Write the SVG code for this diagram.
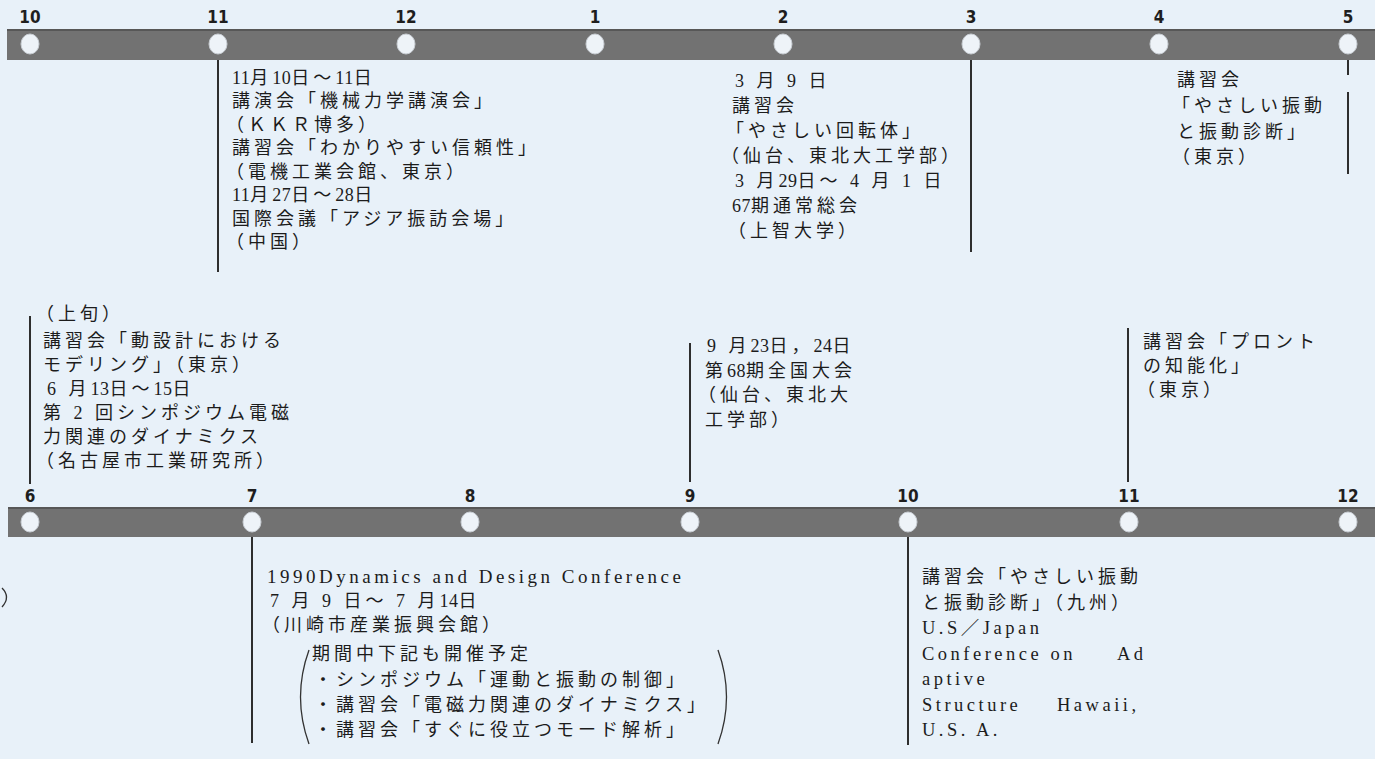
<svg xmlns="http://www.w3.org/2000/svg" width="1375" height="759" viewBox="0 0 1375 759">
<style>
.bg{fill:#e8f1f9}
.bar{fill:#727272}
.barEdge{stroke:#575757;stroke-width:2}
.dot{fill:#eef3f8;stroke:#c9ced4;stroke-width:1}
.lbl{font-family:"Liberation Sans Narrow","DejaVu Sans Condensed","Liberation Sans",sans-serif;font-weight:bold;font-size:17px;fill:#1e1e1e;text-anchor:middle}
.t{font-family:"Liberation Serif","Noto Sans CJK JP",serif;font-size:18px;letter-spacing:4px;fill:#1c1c1c}
.d{letter-spacing:0.5px}
.l{letter-spacing:3.5px;font-size:18.5px}
.ln{stroke:#2e2e2e;stroke-width:2;fill:none}
.br{stroke:#333;stroke-width:1.3;fill:none}
</style>
<rect class="bg" x="0" y="0" width="1375" height="759"/>

<g id="timeline-top">
<rect class="bar" x="7" y="29" width="1368" height="31"/>
<line class="barEdge" x1="7" y1="30" x2="1375" y2="30"/>
<ellipse class="dot" cx="30" cy="44" rx="9" ry="10"/>
<ellipse class="dot" cx="218" cy="44" rx="9" ry="10"/>
<ellipse class="dot" cx="406" cy="44" rx="9" ry="10"/>
<ellipse class="dot" cx="595" cy="44" rx="9" ry="10"/>
<ellipse class="dot" cx="783" cy="44" rx="9" ry="10"/>
<ellipse class="dot" cx="971" cy="44" rx="9" ry="10"/>
<ellipse class="dot" cx="1159" cy="44" rx="9" ry="10"/>
<ellipse class="dot" cx="1348" cy="44" rx="9" ry="10"/>
<text class="lbl" x="30" y="23">10</text>
<text class="lbl" x="218" y="23">11</text>
<text class="lbl" x="406" y="23">12</text>
<text class="lbl" x="595" y="23">1</text>
<text class="lbl" x="783" y="23">2</text>
<text class="lbl" x="971" y="23">3</text>
<text class="lbl" x="1159" y="23">4</text>
<text class="lbl" x="1348" y="23">5</text>
</g>

<g id="timeline-bottom">
<rect class="bar" x="8" y="507" width="1367" height="30"/>
<line class="barEdge" x1="8" y1="508" x2="1375" y2="508"/>
<ellipse class="dot" cx="30" cy="522" rx="9" ry="10"/>
<ellipse class="dot" cx="252" cy="522" rx="9" ry="10"/>
<ellipse class="dot" cx="470" cy="522" rx="9" ry="10"/>
<ellipse class="dot" cx="690" cy="522" rx="9" ry="10"/>
<ellipse class="dot" cx="908" cy="522" rx="9" ry="10"/>
<ellipse class="dot" cx="1129" cy="522" rx="9" ry="10"/>
<ellipse class="dot" cx="1348" cy="522" rx="9" ry="10"/>
<text class="lbl" x="30" y="502">6</text>
<text class="lbl" x="252" y="502">7</text>
<text class="lbl" x="470" y="502">8</text>
<text class="lbl" x="690" y="502">9</text>
<text class="lbl" x="908" y="502">10</text>
<text class="lbl" x="1129" y="502">11</text>
<text class="lbl" x="1348" y="502">12</text>
</g>

<g id="connectors">
<line class="ln" x1="218" y1="60" x2="218" y2="272"/>
<line class="ln" x1="971" y1="60" x2="971" y2="252"/>
<line class="ln" x1="1348" y1="60" x2="1348" y2="75"/>
<line class="ln" x1="1348" y1="92" x2="1348" y2="174"/>
<line class="ln" x1="30" y1="316" x2="30" y2="484"/>
<line class="ln" x1="690" y1="343" x2="690" y2="482"/>
<line class="ln" x1="1128" y1="328" x2="1128" y2="482"/>
<line class="ln" x1="252" y1="537" x2="252" y2="743"/>
<line class="ln" x1="908" y1="537" x2="908" y2="745"/>
</g>

<g id="event-nov">
<text class="t" x="232" y="83.5"><tspan class="d">11</tspan>月<tspan class="d">10</tspan>日〜<tspan class="d">11</tspan>日</text>
<text class="t" x="232" y="107">講演会「機械力学講演会」</text>
<text class="t" x="226" y="130.5">（ＫＫＲ博多）</text>
<text class="t" x="232" y="154">講習会「わかりやすい信頼性」</text>
<text class="t" x="226" y="177.5">（電機工業会館、東京）</text>
<text class="t" x="232" y="201"><tspan class="d">11</tspan>月<tspan class="d">27</tspan>日〜<tspan class="d">28</tspan>日</text>
<text class="t" x="232" y="224.5">国際会議「アジア振訪会場」</text>
<text class="t" x="226" y="248">（中国）</text>
</g>

<g id="event-mar">
<text class="t" x="735" y="86.5">3 月 9 日</text>
<text class="t" x="732" y="111.5">講習会</text>
<text class="t" x="726" y="136.5">「やさしい回転体」</text>
<text class="t" x="721" y="161.5">（仙台、東北大工学部）</text>
<text class="t" x="735" y="186.5">3 月<tspan class="d">29</tspan>日〜 4 月 1 日</text>
<text class="t" x="732" y="211.5"><tspan class="d">67</tspan>期通常総会</text>
<text class="t" x="728" y="236.5">（上智大学）</text>
</g>

<g id="event-apr">
<text class="t" x="1177" y="86">講習会</text>
<text class="t" x="1172" y="112">「やさしい振動</text>
<text class="t" x="1177" y="138">と振動診断」</text>
<text class="t" x="1172" y="163">（東京）</text>
</g>

<g id="event-jun">
<text class="t" x="36" y="320">（上旬）</text>
<text class="t" x="43" y="347">講習会「動設計における</text>
<text class="t" x="43" y="371">モデリング」（東京）</text>
<text class="t" x="47" y="395">6 月<tspan class="d">13</tspan>日〜<tspan class="d">15</tspan>日</text>
<text class="t" x="43" y="419">第 2 回シンポジウム電磁</text>
<text class="t" x="43" y="443">力関連のダイナミクス</text>
<text class="t" x="36" y="467">（名古屋市工業研究所）</text>
</g>

<g id="event-sep">
<text class="t" x="707" y="352">9 月<tspan class="d">23</tspan>日，<tspan class="d">24</tspan>日</text>
<text class="t" x="705" y="376.5">第<tspan class="d">68</tspan>期全国大会</text>
<text class="t" x="698" y="401">（仙台、東北大</text>
<text class="t" x="705" y="425.5">工学部）</text>
</g>

<g id="event-nov2">
<text class="t" x="1143" y="348">講習会「プロント</text>
<text class="t" x="1143" y="372">の知能化」</text>
<text class="t" x="1137" y="396">（東京）</text>
</g>

<g id="event-jul">
<text class="t" x="267" y="583" style="font-size:19px" textLength="418" lengthAdjust="spacing">1990Dynamics and Design Conference</text>
<text class="t" x="270" y="607">7 月 9 日〜 7 月<tspan class="d">14</tspan>日</text>
<text class="t" x="262" y="631">（川崎市産業振興会館）</text>
<text class="t" x="312" y="660">期間中下記も開催予定</text>
<text class="t" x="314" y="686">・シンポジウム「運動と振動の制御」</text>
<text class="t" x="314" y="711">・講習会「電磁力関連のダイナミクス」</text>
<text class="t" x="314" y="736">・講習会「すぐに役立つモード解析」</text>
<path class="br" d="M309,650 Q292,697 309,744"/>
<path class="br" d="M718,650 Q735,697 718,744"/>
</g>

<g id="event-oct">
<text class="t" x="922" y="583">講習会「やさしい振動</text>
<text class="t" x="922" y="608.5">と振動診断」（九州）</text>
<text class="t l" x="922" y="634">U.S／Japan</text>
<text class="t l" x="922" y="659.5">Conference on<tspan x="1117">Ad</tspan></text>
<text class="t l" x="922" y="685">aptive</text>
<text class="t l" x="922" y="710.5">Structure<tspan x="1057">Hawaii,</tspan></text>
<text class="t l" x="922" y="736">U.S. A.</text>
</g>

<path class="br" d="M2,588 Q11,597 2,607"/>
</svg>
